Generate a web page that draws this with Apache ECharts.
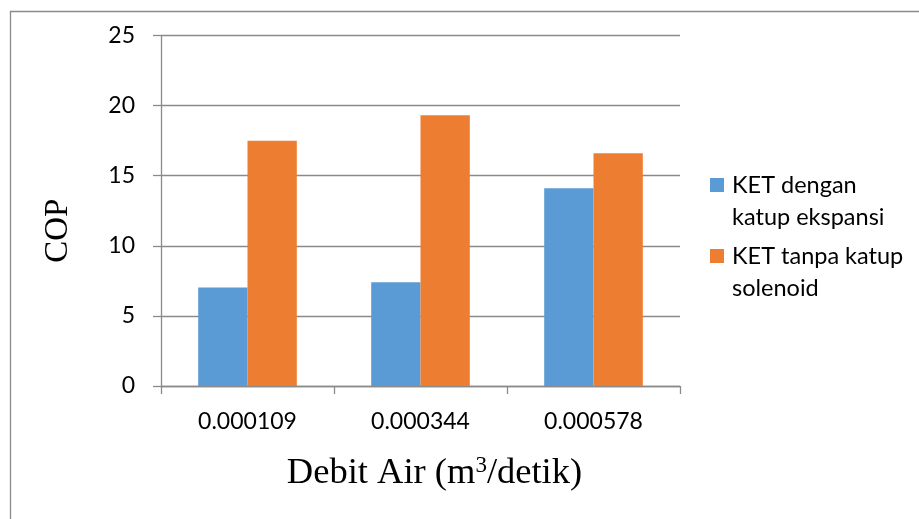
<!DOCTYPE html>
<html>
<head>
<meta charset="utf-8">
<style>
  html, body { margin: 0; padding: 0; background: #ffffff; }
  #chart { width: 919px; height: 519px; }
</style>
<script src="https://cdn.jsdelivr.net/npm/echarts@6/dist/echarts.min.js"></script>
</head>
<body>
<div id="chart"></div>
<script>
// Water flow rate categories (m³/s)
const categories = ['0.000109', '0.000344', '0.000578'];

// COP values per configuration
const seriesNames = ['KET dengan katup ekspansi', 'KET tanpa katup solenoid'];
const copDenganKatupEkspansi = [7.03, 7.4, 14.1];
const copTanpaKatupSolenoid = [17.5, 19.31, 16.6];

// Legend label wrapping (one line per entry)
const legendLines = {
  'KET dengan katup ekspansi': ['KET dengan', 'katup ekspansi'],
  'KET tanpa katup solenoid': ['KET tanpa katup', 'solenoid']
};

const yTicks = { min: 0, max: 25, interval: 5 };

const axisGray = '#8a8a8a';
const sansFont = 'Lato';
const serifFont = 'Liberation Serif';

// An empty leading line keeps the legend square level with the first text line
function legendFormatter(name) {
  const lines = legendLines[name] || [name];
  return ['{t|\u200b}'].concat(lines.map(l => '{t|' + l + '}')).join('\n');
}

const chart = echarts.init(document.getElementById('chart'), null, { renderer: 'canvas' });

chart.setOption({
  animation: false,
  backgroundColor: '#ffffff',
  color: ['#5B9BD5', '#ED7D31'],
  graphic: [{
    type: 'rect',
    silent: true,
    shape: { x: 10.5, y: 11.5, width: 1200, height: 1200 },
    style: { fill: 'none', stroke: axisGray, lineWidth: 1.3 }
  }],
  grid: { left: 161, right: 239, top: 35.5, bottom: 133, containLabel: false },
  legend: {
    orient: 'vertical',
    left: 710,
    top: 137,
    padding: 0,
    itemWidth: 14,
    itemHeight: 14,
    itemGap: -25,
    icon: 'rect',
    formatter: legendFormatter,
    textStyle: {
      fontFamily: sansFont,
      fontSize: 23.5,
      color: '#000000',
      lineHeight: 32,
      rich: {
        t: { fontFamily: sansFont, fontSize: 23.5, color: '#000000', lineHeight: 32, padding: [0, 0, 0, 3] }
      }
    },
    data: seriesNames
  },
  xAxis: {
    type: 'category',
    data: categories,
    name: 'Debit Air (m{sup|3}/detik)',
    nameLocation: 'middle',
    nameGap: 68,
    nameTextStyle: {
      fontFamily: serifFont,
      fontSize: 36.5,
      color: '#000000',
      padding: [0, 0, 0, 28],
      rich: {
        sup: { fontFamily: serifFont, fontSize: 23, color: '#000000', verticalAlign: 'bottom', padding: [0, 0, 16, 0] }
      }
    },
    axisLine: { show: true, lineStyle: { color: axisGray, width: 1.3 } },
    axisTick: { show: true, alignWithLabel: false, length: 8, lineStyle: { color: axisGray, width: 1.3 } },
    axisLabel: { fontFamily: sansFont, fontSize: 23, color: '#000000', margin: 24 },
    splitLine: { show: false }
  },
  yAxis: {
    type: 'value',
    min: yTicks.min,
    max: yTicks.max,
    interval: yTicks.interval,
    name: 'COP',
    nameLocation: 'middle',
    nameRotate: 90,
    nameGap: 86,
    nameTextStyle: {
      fontFamily: serifFont,
      fontSize: 33,
      color: '#000000',
      padding: [0, 40, 0, 0]
    },
    axisLine: { show: true, lineStyle: { color: axisGray, width: 1.3 } },
    axisTick: { show: true, length: 8, lineStyle: { color: axisGray, width: 1.3 } },
    axisLabel: { fontFamily: sansFont, fontSize: 23, color: '#000000', margin: 26 },
    splitLine: { show: true, lineStyle: { color: axisGray, width: 1.3 } }
  },
  series: [
    {
      name: seriesNames[0],
      type: 'bar',
      data: copDenganKatupEkspansi,
      barGap: '0%',
      barCategoryGap: '43%'
    },
    {
      name: seriesNames[1],
      type: 'bar',
      data: copTanpaKatupSolenoid,
      barGap: '0%',
      barCategoryGap: '43%'
    }
  ]
});
</script>
</body>
</html>
